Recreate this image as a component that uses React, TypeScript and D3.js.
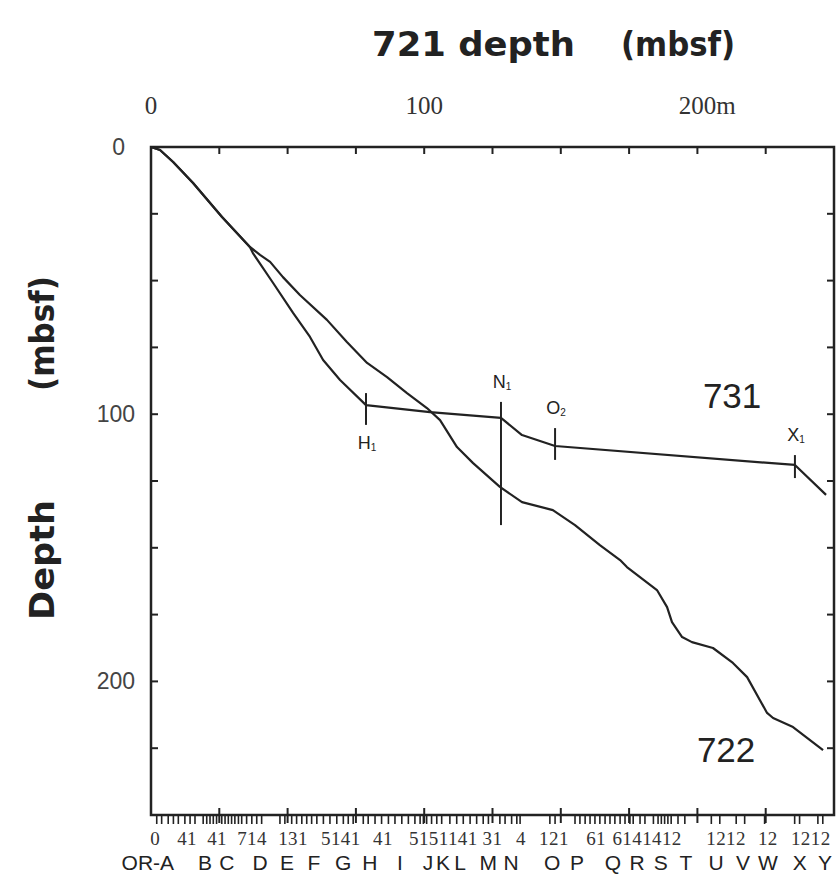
import React, { useEffect, useRef } from 'react';
import * as d3 from 'd3';

// depth in hole 721 (x) vs correlated depth in other holes (y), metres
const hole722 = [
  [0, 0], [3.3, 1.1], [8.1, 5.6], [15.4, 13.5], [26.0, 26.2], [36.2, 37.4], [39.9, 40.4],
  [43.6, 43.0], [48.3, 48.7], [54.5, 55.4], [64.4, 64.7], [71.7, 73.0], [79.1, 80.8],
  [86.4, 86.1], [93.7, 92.1], [101.0, 97.7], [105.8, 102.2], [112.0, 112.3], [117.9, 118.3],
  [127.7, 127.2], [135.8, 132.9], [147.1, 135.9], [155.2, 141.5], [164.3, 149.0],
  [171.7, 154.6], [174.2, 157.2], [185.2, 165.8], [188.9, 172.2], [190.7, 177.8],
  [194.4, 183.4], [198.0, 185.3], [205.7, 187.5], [213.0, 193.1], [218.2, 198.4],
  [225.5, 211.8], [227.7, 213.7], [235.0, 217.1], [246.0, 225.7],
];

const hole731 = [
  [0, 0], [3.3, 1.1], [8.1, 5.6], [15.4, 13.5], [26.0, 26.2], [36.2, 37.4], [37.3, 39.7],
  [44.7, 50.9], [52.0, 62.1], [58.2, 71.1], [63.0, 79.7], [69.2, 87.2], [78.7, 96.6],
  [102.1, 99.2], [128.1, 101.4], [135.8, 107.8], [147.9, 111.9], [235.7, 119.0], [247.1, 130.2],
];

// tie points on the 731 curve: name, subscript, 721 depth, tick from/to depth, label below?
const markers = [
  { name: 'H', sub: '1', x: 78.7, y0: 92.1, y1: 104.0, below: true },
  { name: 'N', sub: '1', x: 128.1, y0: 95.4, y1: 141.5, below: false },
  { name: 'O', sub: '2', x: 147.9, y0: 105.2, y1: 117.1, below: false },
  { name: 'X', sub: '1', x: 235.7, y0: 115.3, y1: 123.9, below: false },
];

const topTicks = [0, 100, 200];
const leftTicks = [0, 100, 200];

// core section boundaries along the bottom (721 depth, m)
const sectionTicks = [
  2.1, 3.9, 6.3, 8.2, 10.0, 12.4, 14.3, 16.1, 19.1, 20.4, 21.6, 22.8, 24.0, 25.9, 27.1, 28.3,
  29.5, 30.7, 32.0, 33.2, 35.0, 36.9, 38.7, 40.5, 47.2, 49.0, 51.5, 53.3, 55.2, 57.0, 58.8,
  60.7, 63.1, 65.5, 68.0, 70.4, 72.2, 74.0, 77.7, 79.5, 82.0, 84.4, 86.9, 89.3, 91.8, 94.2,
  96.6, 98.5, 99.7, 100.9, 102.7, 104.6, 106.4, 109.4, 111.9, 114.3, 116.8, 119.2, 121.6,
  123.5, 127.7, 129.6, 132.0, 133.9, 135.1, 146.0, 147.9, 155.2, 157.0, 158.9, 160.7, 162.5,
  164.3, 166.2, 168.0, 169.8, 171.7, 173.5, 175.3, 176.5, 179.0, 180.8, 183.9, 185.6, 186.8,
  188.0, 189.2, 190.4, 192.9, 195.4, 205.1, 208.2, 214.2, 217.3, 224.6, 235.6, 237.4, 244.1,
  245.9,
];

const sectionNumbers = [
  ['0', 1.5], ['41', 13.2], ['41', 24.2], ['714', 37.0], ['131', 52.0], ['5141', 69.5],
  ['41', 84.9], ['5151141', 107.0], ['31', 125.0], ['4', 135.4], ['121', 147.5],
  ['61', 162.9], ['6141412', 181.6], ['1212', 210.5], ['12', 225.8], ['1212', 241.5],
];

const coreLetters = [
  ['A', 5.9], ['B', 19.8], ['C', 27.8], ['D', 39.9], ['E', 49.8], ['F', 59.6], ['G', 70.3],
  ['H', 80.1], ['I', 91.1], ['J', 101.4], ['K', 106.9], ['L', 113.1], ['M', 123.4],
  ['N', 131.8], ['O', 146.8], ['P', 155.9], ['Q', 169.1], ['R', 177.9], ['S', 186.6],
  ['T', 195.8], ['U', 206.8], ['V', 216.7], ['W', 225.8], ['X', 237.5], ['Y', 246.7],
];

const seriesLabels = [
  { text: '731', x: 212.7, y: 97.7 },
  { text: '722', x: 210.5, y: 230.2 },
];

export default function App() {
  const ref = useRef<SVGSVGElement>(null);

  useEffect(() => {
    const svg = d3.select(ref.current);
    svg.selectAll('*').remove();

    const ink = '#222';
    const x = d3.scaleLinear().domain([0, 250]).range([151, 834]);
    const y = d3.scaleLinear().domain([0, 250]).range([147, 815]);

    // title
    svg.append('text').attr('x', 372).attr('y', 56)
      .attr('font-family', 'DejaVu Sans').attr('font-weight', 'bold').attr('font-size', 33)
      .attr('textLength', 203).attr('lengthAdjust', 'spacingAndGlyphs')
      .attr('fill', ink).text('721 depth');
    svg.append('text').attr('x', 621).attr('y', 56)
      .attr('font-family', 'DejaVu Sans').attr('font-weight', 'bold').attr('font-size', 33)
      .attr('textLength', 114).attr('lengthAdjust', 'spacingAndGlyphs')
      .attr('fill', ink).text('(mbsf)');

    // y title
    svg.append('text').attr('transform', 'translate(54,620) rotate(-90)')
      .attr('font-family', 'DejaVu Sans').attr('font-weight', 'bold').attr('font-size', 33)
      .attr('textLength', 120).attr('lengthAdjust', 'spacingAndGlyphs')
      .attr('fill', ink).text('Depth');
    svg.append('text').attr('transform', 'translate(54,391) rotate(-90)')
      .attr('font-family', 'DejaVu Sans').attr('font-weight', 'bold').attr('font-size', 33)
      .attr('textLength', 115).attr('lengthAdjust', 'spacingAndGlyphs')
      .attr('fill', ink).text('(mbsf)');

    // frame
    svg.append('rect')
      .attr('x', x(0)).attr('y', y(0))
      .attr('width', x(250) - x(0)).attr('height', y(250) - y(0))
      .attr('fill', 'none').attr('stroke', ink).attr('stroke-width', 2.5);

    const step = d3.range(25, 250, 25);

    // inner ticks on top, left, right
    const ticks = svg.append('g').attr('stroke', ink).attr('stroke-width', 2);
    step.forEach(v => {
      ticks.append('line').attr('x1', x(v)).attr('x2', x(v)).attr('y1', y(0)).attr('y2', y(0) + 7);
      ticks.append('line').attr('x1', x(v)).attr('x2', x(v)).attr('y1', y(250) - 7).attr('y2', y(250) + 8);
      ticks.append('line').attr('x1', x(0)).attr('x2', x(0) + 7).attr('y1', y(v)).attr('y2', y(v));
      ticks.append('line').attr('x1', x(250) - 7).attr('x2', x(250)).attr('y1', y(v)).attr('y2', y(v));
    });

    // section ticks along bottom
    svg.append('g').attr('stroke', ink).attr('stroke-width', 1.6)
      .selectAll('line').data(sectionTicks).enter()
      .append('line')
      .attr('x1', d => x(d)).attr('x2', d => x(d))
      .attr('y1', y(250)).attr('y2', y(250) + 9);

    // top axis labels
    svg.append('g').selectAll('text').data(topTicks).enter()
      .append('text')
      .attr('x', d => x(d) - String(d).length * 6.2)
      .attr('y', 114)
      .attr('font-family', 'Liberation Serif').attr('font-size', 25).attr('fill', '#333')
      .text(d => d === 200 ? d + 'm' : String(d));

    // left axis labels
    svg.append('g').selectAll('text').data(leftTicks).enter()
      .append('text')
      .attr('x', d => d === 0 ? 125 : 135)
      .attr('y', d => y(d) + 8)
      .attr('text-anchor', 'end')
      .attr('font-family', 'Liberation Sans').attr('font-size', 23).attr('fill', '#444')
      .text(d => String(d));

    // bottom labels
    svg.append('g').selectAll('text').data(sectionNumbers).enter()
      .append('text')
      .attr('x', d => x(d[1] as number)).attr('y', 845)
      .attr('text-anchor', 'middle')
      .attr('font-family', 'Liberation Serif').attr('font-size', 19)
      .attr('letter-spacing', 0.4).attr('fill', '#333')
      .text(d => d[0] as string);

    svg.append('g').selectAll('text').data(coreLetters).enter()
      .append('text')
      .attr('x', d => x(d[1] as number) + (d[0] === 'A' ? 7 : 0)).attr('y', 870)
      .attr('text-anchor', d => d[0] === 'A' ? 'end' : 'middle')
      .attr('font-family', 'Liberation Sans').attr('font-size', 21).attr('fill', ink)
      .text(d => d[0] === 'A' ? 'OR-A' : (d[0] as string));

    // curves
    const line = d3.line<number[]>().x(d => x(d[0])).y(d => y(d[1]));
    [hole722, hole731].forEach(s => {
      svg.append('path').attr('d', line(s))
        .attr('fill', 'none').attr('stroke', ink).attr('stroke-width', 2.2)
        .attr('stroke-linejoin', 'round');
    });

    // tie point markers
    const mk = svg.append('g');
    markers.forEach(m => {
      mk.append('line').attr('x1', x(m.x)).attr('x2', x(m.x))
        .attr('y1', y(m.y0)).attr('y2', y(m.y1))
        .attr('stroke', ink).attr('stroke-width', 2);
      const t = mk.append('text')
        .attr('x', x(m.x) + 1)
        .attr('y', m.below ? y(m.y1) + 24 : y(m.y0) - 14)
        .attr('text-anchor', 'middle')
        .attr('font-family', 'Liberation Sans').attr('font-size', 18).attr('fill', ink);
      t.append('tspan').text(m.name);
      t.append('tspan').attr('font-size', 10).attr('dy', 2).text(m.sub);
    });

    svg.append('g').selectAll('text').data(seriesLabels).enter()
      .append('text')
      .attr('x', d => x(d.x)).attr('y', d => y(d.y))
      .attr('text-anchor', 'middle')
      .attr('font-family', 'Liberation Sans').attr('font-size', 35).attr('fill', ink)
      .text(d => d.text);
  }, []);

  return (
    <svg ref={ref} width={838} height={875}
      style={{ position: 'absolute', left: 0, top: 0, background: '#fff' }} />
  );
}
